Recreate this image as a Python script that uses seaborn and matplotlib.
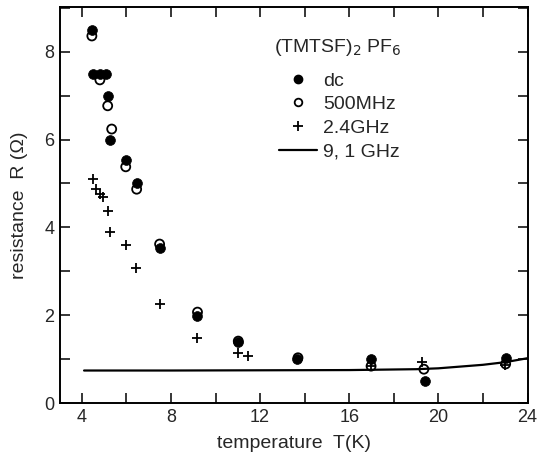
import numpy as np
import pandas as pd
import matplotlib
matplotlib.use("Agg")
import matplotlib.pyplot as plt
from matplotlib.lines import Line2D
from matplotlib.ticker import MultipleLocator
import seaborn as sns

# ---- data ----
dc_T = [4.45, 4.49, 4.81, 5.07, 5.16, 5.25, 5.97, 6.46, 7.49, 9.19, 11.02, 13.65, 16.96, 19.42, 23.02]
dc_R = [8.50, 7.49, 7.49, 7.49, 6.99, 5.99, 5.54, 5.01, 3.53, 1.98, 1.39, 1.00, 1.00, 0.49, 1.03]

mhz500_T = [4.45, 4.81, 5.16, 5.34, 5.97, 6.46, 7.49, 9.19, 11.02, 13.70, 16.98, 19.35, 23.02]
mhz500_R = [8.36, 7.36, 6.77, 6.24, 5.38, 4.87, 3.62, 2.07, 1.41, 1.03, 0.84, 0.77, 0.89]

ghz24_T = [4.51, 4.63, 4.81, 4.95, 5.19, 5.25, 5.99, 6.43, 7.49, 9.18, 10.99, 11.44, 16.96, 19.26, 23.00]
ghz24_R = [5.10, 4.87, 4.76, 4.69, 4.37, 3.90, 3.59, 3.08, 2.26, 1.49, 1.15, 1.07, 0.85, 0.93, 0.87]

ghz91_T = [4.1, 8, 12, 16, 19, 20, 21, 22, 23, 24]
ghz91_R = [0.74, 0.74, 0.745, 0.75, 0.77, 0.79, 0.83, 0.87, 0.93, 1.02]

x_ticklabels = ["4", "8", "12", "16", "20", "24"]
y_ticklabels = ["0", "2", "4", "6", "8"]

sns.set_style("ticks")
plt.rcParams['font.family'] = ['Liberation Sans Narrow', 'Liberation Sans', 'DejaVu Sans']

fig = plt.figure(figsize=(5.39, 4.62), dpi=100)
ax = fig.add_axes([60/539, 1 - 403/462, (527.5 - 60)/539, (403 - 7)/462])

df_dc = pd.DataFrame({"T": dc_T, "R": dc_R})
df_500 = pd.DataFrame({"T": mhz500_T, "R": mhz500_R})
df_24 = pd.DataFrame({"T": ghz24_T, "R": ghz24_R})
df_91 = pd.DataFrame({"T": ghz91_T, "R": ghz91_R})

sns.lineplot(data=df_91, x="T", y="R", ax=ax, color="black", linewidth=1.6, zorder=1)
sns.scatterplot(data=df_24, x="T", y="R", ax=ax, marker="+", s=60, color="black",
                linewidth=1.3, zorder=3)
sns.scatterplot(data=df_500, x="T", y="R", ax=ax, marker="o", s=42, facecolor="none",
                edgecolor="black", linewidth=1.3, zorder=4)
sns.scatterplot(data=df_dc, x="T", y="R", ax=ax, marker="o", s=50, color="black",
                edgecolor="black", linewidth=0.5, zorder=5)

ax.set_xlim(3.02, 23.95)
ax.set_ylim(0, 9.02)

ax.set_xticks([4, 8, 12, 16, 20, 24])
ax.set_xticklabels(x_ticklabels)
ax.xaxis.set_minor_locator(MultipleLocator(2))
ax.set_yticks([0, 2, 4, 6, 8])
ax.set_yticklabels(y_ticklabels)
ax.yaxis.set_minor_locator(MultipleLocator(1))

ax.tick_params(which="both", direction="in", top=True, right=True, length=7, width=1.3,
               labelsize=13, pad=4)

for sp in ax.spines.values():
    sp.set_visible(True)
    sp.set_linewidth(1.4)
    sp.set_color("black")

ax.set_xlabel("temperature  T(K)", fontsize=14, labelpad=7)
ax.set_ylabel("resistance  R (Ω)", fontsize=14, labelpad=12)

handles = [
    Line2D([], [], marker="o", linestyle="none", color="black", markersize=6),
    Line2D([], [], marker="o", linestyle="none", markerfacecolor="none",
           markeredgecolor="black", markersize=5.5, markeredgewidth=1.3),
    Line2D([], [], marker="+", linestyle="none", color="black", markersize=7, markeredgewidth=1.3),
    Line2D([], [], color="black", linewidth=1.6),
]
labels = ["dc", "500MHz", "2.4GHz", "9, 1 GHz"]
leg = ax.legend(handles, labels, frameon=False,
                loc="upper left", bbox_to_anchor=((279 - 60)/467.5, 1 - (72 - 7)/396),
                fontsize=14, handlelength=1.95, handletextpad=0.3,
                labelspacing=0.31, borderpad=0, borderaxespad=0)

fig.text(338/539, 1 - 48/462, "(TMTSF)$_2$ PF$_6$", fontsize=14, ha="center", va="center")

fig.savefig("out.png", dpi=100)
